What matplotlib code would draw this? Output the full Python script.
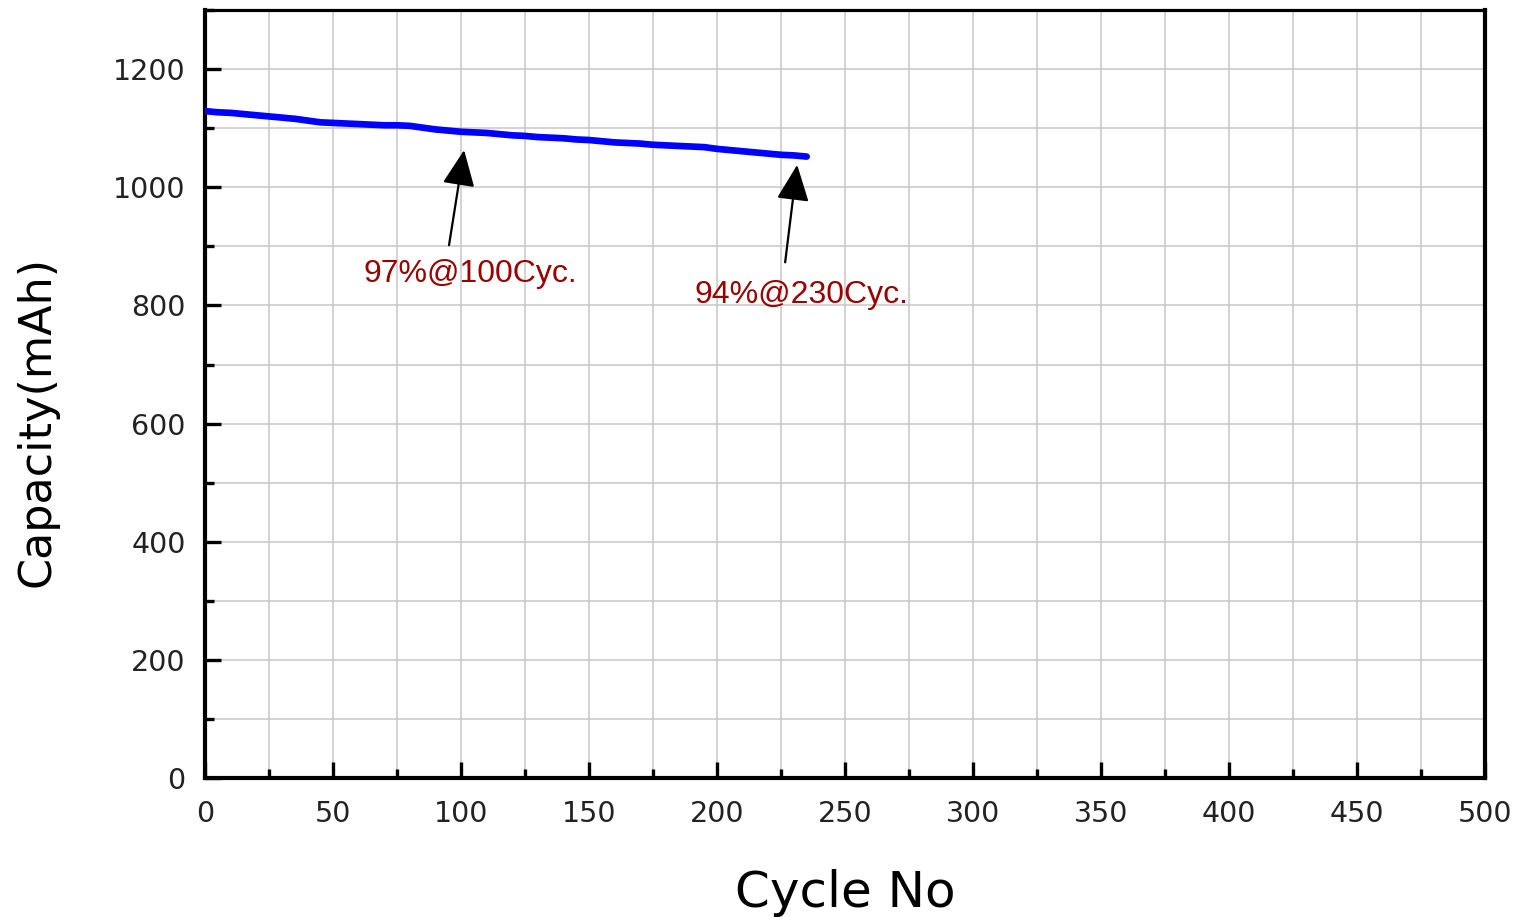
import matplotlib
matplotlib.use("Agg")
import matplotlib.pyplot as plt
from matplotlib.ticker import MultipleLocator

cycles = [0, 5, 10, 15, 20, 25, 30, 35, 40, 45, 50, 55, 60, 65, 70, 75, 80, 85, 90, 95,
          100, 105, 110, 115, 120, 125, 130, 135, 140, 145, 150, 155, 160, 165, 170, 175,
          180, 185, 190, 195, 200, 205, 210, 215, 220, 225, 230, 235]
capacity = [1129, 1127, 1126, 1124, 1122, 1120, 1118, 1116, 1113, 1110, 1109, 1108, 1107,
            1106, 1105, 1105, 1104, 1101, 1098, 1096, 1094, 1093, 1092, 1090, 1088, 1087,
            1085, 1084, 1083, 1081, 1080, 1078, 1076, 1075, 1074, 1072, 1071, 1070, 1069,
            1068, 1065, 1063, 1061, 1059, 1057, 1055, 1054, 1052]

ann_labels = ["97%@100Cyc.", "94%@230Cyc."]
ann_tips = [(101.2, 1063), (231.3, 1038)]
ann_tails = [(95.3, 902), (226.6, 873)]
ann_text_pos = [(103.5, 853), (232.8, 817)]

xticks = [0, 50, 100, 150, 200, 250, 300, 350, 400, 450, 500]
yticks = [0, 200, 400, 600, 800, 1000, 1200]

plt.rcParams['font.family'] = ['DejaVu Sans']

fig = plt.figure(figsize=(15.2, 9.17), dpi=100)
ax = fig.add_axes([0.1349, 0.1516, 0.977 - 0.1349, 0.989 - 0.1516])

ax.plot(cycles, capacity, color='#0000ff', lw=4.8, solid_capstyle='round', zorder=3)

ax.set_xlim(0, 500)
ax.set_ylim(0, 1300)
ax.set_xticks(xticks)
ax.set_yticks(yticks)
ax.xaxis.set_minor_locator(MultipleLocator(25))
ax.yaxis.set_minor_locator(MultipleLocator(100))
ax.grid(which='both', color='#c8c8c8', lw=1.1, zorder=0)
ax.set_axisbelow(True)

ax.tick_params(which='major', direction='in', length=11.5, width=2.4, labelsize=20.5,
               top=False, right=False, pad=14, labelcolor='#222222')
ax.tick_params(which='minor', direction='in', length=6.5, width=2.4, top=False, right=False)
ax.tick_params(axis='x', which='major', pad=16)

for s in ['left', 'bottom', 'right']:
    ax.spines[s].set_linewidth(3.0)
ax.spines['top'].set_linewidth(2.3)

fig.text(845 / 1520, 1 - 893 / 917, 'Cycle No', fontsize=36, ha='center', va='center')
fig.text(37 / 1520, 1 - 421.5 / 917, 'Capacity(mAh)', fontsize=32, rotation=90,
         ha='center', va='center')

for lab, tip, tail, tp in zip(ann_labels, ann_tips, ann_tails, ann_text_pos):
    ax.annotate('', xy=tip, xytext=tail,
                arrowprops=dict(arrowstyle='-|>,head_length=0.4,head_width=0.18',
                                mutation_scale=56, lw=1.6, color='black',
                                shrinkA=0, shrinkB=0), zorder=4)
    ax.text(tp[0], tp[1], lab, color='#990000', fontsize=23,
            family=['Liberation Sans'], ha='center', va='center', zorder=4)

fig.savefig('out.png', dpi=100)
